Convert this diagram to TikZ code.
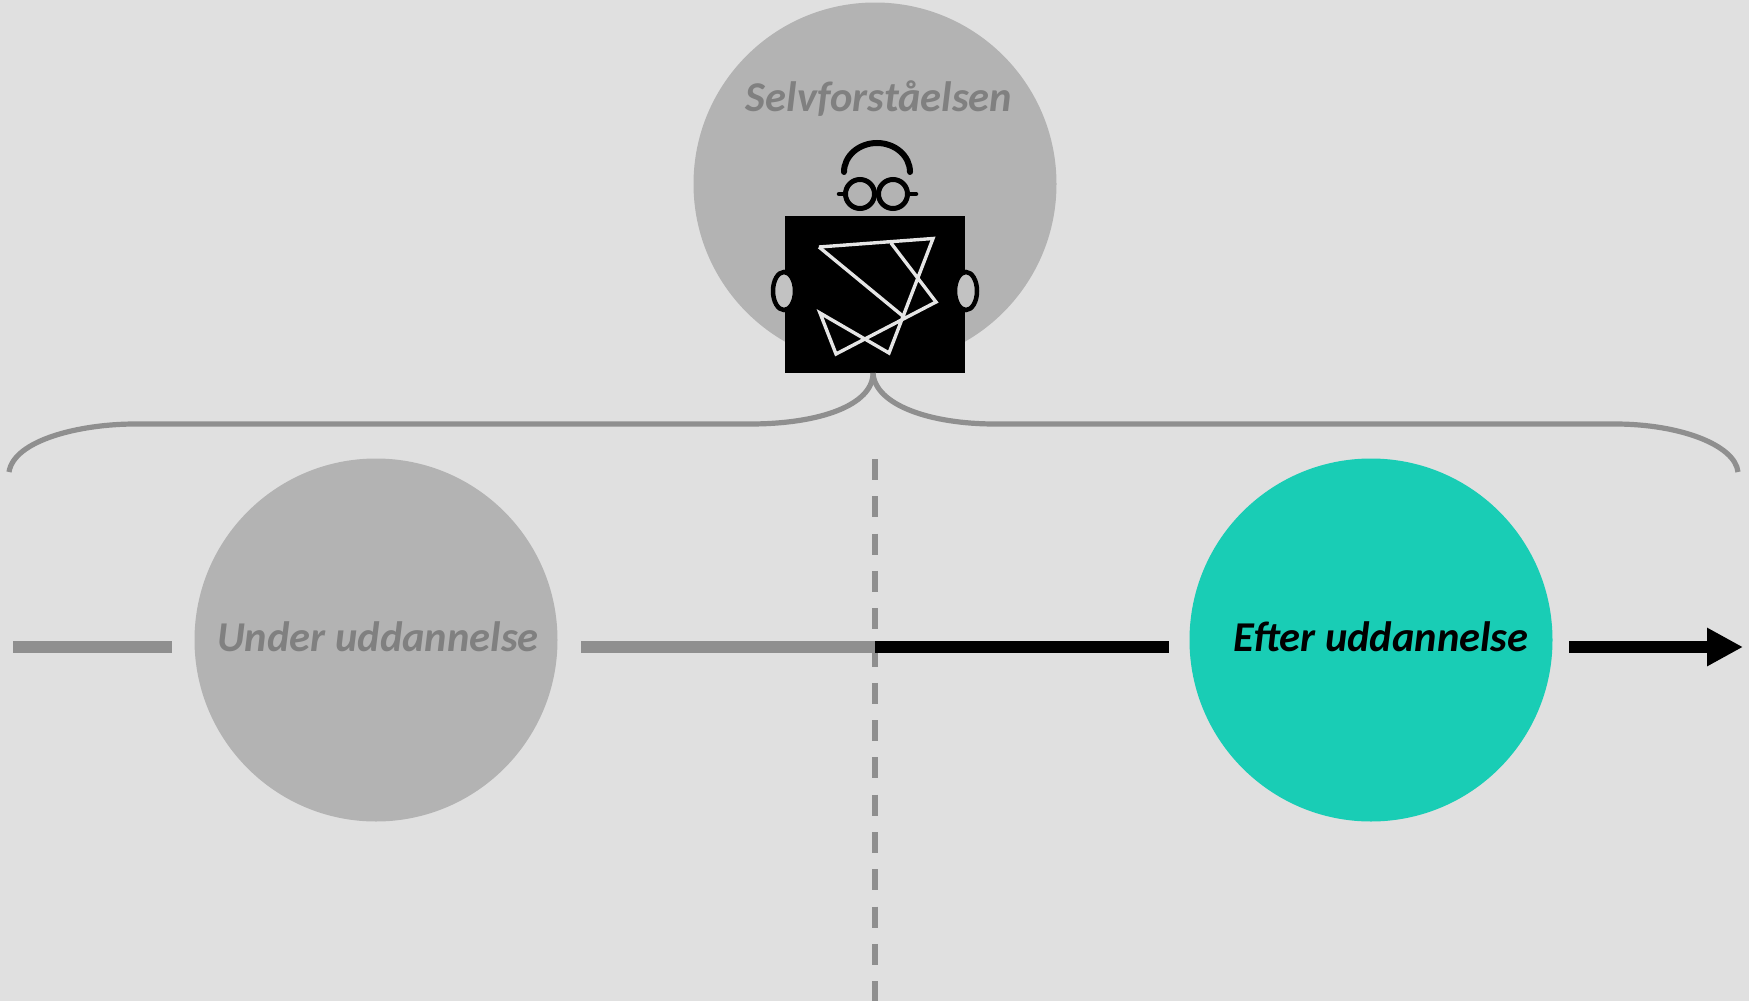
\documentclass[tikz,border=0pt]{standalone}
\usepackage{fontspec}
\setmainfont{Carlito}
\usetikzlibrary{arrows.meta,shapes.geometric}
\definecolor{bg}{HTML}{E0E0E0}
\definecolor{disc}{HTML}{B3B3B3}
\definecolor{earfill}{HTML}{C2C2C2}
\definecolor{rulegray}{HTML}{8F8F8F}
\definecolor{tealdisc}{HTML}{19CDB5}
\definecolor{mutetext}{HTML}{808080}
\tikzset{
  discnode/.style={circle,fill=disc,draw=none,minimum size=363pt,inner sep=0pt},
  caption/.style={font=\fontsize{42.5}{50}\selectfont\bfseries\itshape,inner sep=0pt,text=mutetext},
  earnode/.style={ellipse,draw=black,line width=4.5pt,fill=earfill,minimum width=22pt,minimum height=38pt,inner sep=0pt},
  glassnode/.style={circle,draw=black,line width=5pt,minimum size=29pt,inner sep=0pt},
  timeline/.style={line width=12.5pt,rulegray,line cap=butt},
  brace/.style={line width=5.2pt,rulegray},
  face/.style={line width=6pt,black,line cap=round},
  scribble/.style={line width=3.4pt,white!90!black,line join=miter}
}
\begin{document}
\begin{tikzpicture}[x=1pt,y=-1pt]
\fill[bg] (0,0) rectangle (1749,1001);
\useasboundingbox (0,0) rectangle (1749,1001);
% discs
\node[discnode] (self) at (875,184) {};
\node[discnode] (under) at (376,640) {};
\node[discnode,fill=tealdisc] (efter) at (1371,640) {};
% labels
\node[caption] (selflabel) at (879,99) {Selvforståelsen};
\node[caption] (underlabel) at (378,637) {Under uddannelse};
\node[caption,text=black] (efterlabel) at (1381,637) {Efter uddannelse};
% body
\node[fill=black,draw=none,minimum width=180pt,minimum height=157pt,inner sep=0pt] (book) at (875,294.5) {};
\draw[scribble] (819,247) -- (933,238.5) -- (889,353) -- (820,313) -- (836,354) -- (936,302) -- (891,243);
\draw[scribble] (819,247) -- (904,317);
% ears
\node[earnode] (earl) at (784,291) {};
\node[earnode] (earr) at (966,291) {};
% head
\draw[face] (844,172) arc[start angle=180,end angle=360,x radius=33,y radius=29];
\node[glassnode] (glassl) at (860,194) {};
\node[glassnode] (glassr) at (893,194) {};
\coordinate (templel) at (839,194);
\coordinate (templer) at (916,194);
\draw[face,line width=4.5pt] (templel) -- (glassl);
\draw[face,line width=4.5pt] (templer) -- (glassr);
% brace
\coordinate (bracetip) at (873,373);
\coordinate (bracel) at (9,472);
\coordinate (bracer) at (1738,472);
\draw[brace] (bracel) .. controls (14,440) and (80,424) .. (135,424) -- (750,424) .. controls (820,424) and (873,405) .. (bracetip);
\draw[brace] (bracetip) .. controls (875,405) and (930,424) .. (995,424) -- (1615,424) .. controls (1680,424) and (1735,445) .. (bracer);
% dashed divider
\coordinate (divtop) at (875,459);
\coordinate (divbot) at (875,1001);
\draw[line width=6pt,rulegray,dash pattern=on 21pt off 16.3pt] (divtop) -- (divbot);
% timeline
\coordinate (t0) at (13,647);
\coordinate (t1) at (172,647);
\coordinate (t2) at (581,647);
\coordinate (t3) at (875,647);
\coordinate (t4) at (1169,647);
\coordinate (t5) at (1569,647);
\coordinate (t6) at (1743,647);
\draw[timeline] (t0) -- (t1);
\draw[timeline] (t2) -- (t3);
\draw[timeline,black] (t3) -- (t4);
\draw[timeline,black,-{Triangle[length=36pt,width=36pt]}] (t5) -- (t6);
\end{tikzpicture}
\end{document}
